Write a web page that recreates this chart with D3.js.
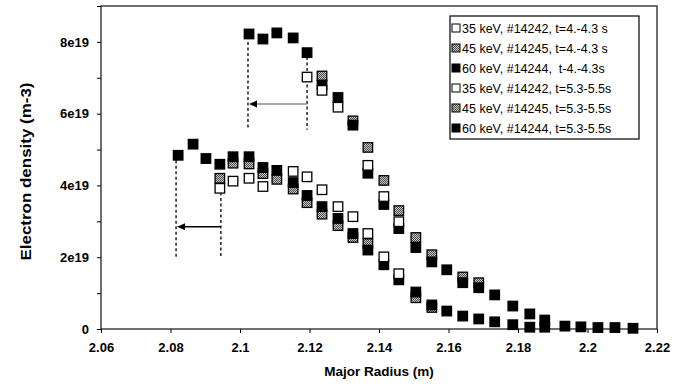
<!DOCTYPE html>
<html>
<head>
<meta charset="utf-8">
<script src="https://cdn.jsdelivr.net/npm/d3@7"></script>
<style>
  body { margin: 0; background: #fff; }
  svg { display: block; font-family: "Liberation Sans", Arial, sans-serif; }
</style>
</head>
<body>
<div id="chart"></div>
<script>
// Major radius (m) and electron density (m-3)
// t = 4.-4.3 s
const r35a = [2.1193, 2.1236, 2.1282, 2.1368, 2.1414, 2.1457];
const n35a = [7.02e19, 6.65e19, 6.18e19, 4.56e19, 3.69e19, 2.99e19];
const r45a = [2.1236, 2.1325, 2.1368, 2.1414, 2.1457, 2.1506, 2.1552, 2.1641, 2.1687];
const n45a = [7.05e19, 5.80e19, 5.06e19, 4.14e19, 3.30e19, 2.55e19, 2.07e19, 1.45e19, 1.29e19];
const r60a = [2.1026, 2.1066, 2.1106, 2.1153, 2.1193, 2.1236, 2.1282, 2.1325, 2.1368, 2.1414, 2.1457, 2.1506, 2.1552,
              2.1595, 2.1641, 2.1687, 2.1733, 2.1785, 2.1834, 2.1877, 2.1935, 2.1981, 2.2030, 2.2079, 2.2131];
const n60a = [8.22e19, 8.08e19, 8.25e19, 8.11e19, 7.70e19, 6.80e19, 6.45e19, 5.68e19, 4.34e19, 3.47e19, 2.80e19, 2.27e19, 1.87e19,
              1.65e19, 1.29e19, 1.15e19, 0.95e19, 0.64e19, 0.42e19, 0.25e19, 0.08e19, 0.06e19, 0.04e19, 0.04e19, 0.02e19];
// t = 5.3-5.5 s
const r35b = [2.0942, 2.0980, 2.1026, 2.1066, 2.1153, 2.1193, 2.1236, 2.1282, 2.1325, 2.1368, 2.1414, 2.1457];
const n35b = [3.92e19, 4.12e19, 4.20e19, 3.97e19, 4.39e19, 4.24e19, 3.88e19, 3.41e19, 3.13e19, 2.66e19, 2.01e19, 1.54e19];
const r45b = [2.0942, 2.0980, 2.1026, 2.1066, 2.1106, 2.1153, 2.1193, 2.1236, 2.1282, 2.1325, 2.1368, 2.1506, 2.1552];
const n45b = [4.20e19, 4.62e19, 4.60e19, 4.33e19, 4.17e19, 3.90e19, 3.52e19, 3.20e19, 2.88e19, 2.55e19, 2.38e19, 0.87e19, 0.60e19];
const r60b = [2.0822, 2.0865, 2.0902, 2.0942, 2.0980, 2.1026, 2.1066, 2.1106, 2.1153, 2.1193, 2.1236, 2.1282, 2.1325,
              2.1368, 2.1414, 2.1457, 2.1506, 2.1552, 2.1595, 2.1641, 2.1687, 2.1733, 2.1785, 2.1834, 2.1877];
const n60b = [4.84e19, 5.15e19, 4.75e19, 4.59e19, 4.80e19, 4.80e19, 4.50e19, 4.42e19, 4.08e19, 3.72e19, 3.41e19, 3.08e19, 2.66e19,
              2.20e19, 1.79e19, 1.37e19, 1.03e19, 0.67e19, 0.50e19, 0.36e19, 0.28e19, 0.20e19, 0.12e19, 0.05e19, 0.05e19];

const legendLabels = [
  "35 keV, #14242, t=4.-4.3 s",
  "45 keV, #14245, t=4.-4.3 s",
  "60 keV, #14244,  t-4.-4.3s",
  "35 keV, #14242, t=5.3-5.5s",
  "45 keV, #14245, t=5.3-5.5s",
  "60 keV, #14244, t=5.3-5.5s"
];

// Shift annotations: dashed verticals and arrow (from -> to)
const shiftFrom = [2.1193, 2.0945];
const shiftTo = [2.1023, 2.0816];
const arrowLevel = [6.27e19, 2.85e19];
const dashFromTop = [7.58e19, 3.80e19];
const dashToTop = [8.00e19, 4.70e19];
const dashBottom = [5.55e19, 2.00e19];

const xTicks = [2.06, 2.08, 2.1, 2.12, 2.14, 2.16, 2.18, 2.2, 2.22];
const yTicks = [0, 1e19, 2e19, 3e19, 4e19, 5e19, 6e19, 7e19, 8e19, 9e19];

const width = 687, height = 389;
const margin = {top: 6, right: 30, bottom: 60, left: 101};

const svg = d3.select("#chart").append("svg")
  .attr("width", width)
  .attr("height", height);

// hatched fill for the 45 keV markers
const pat = svg.append("defs").append("pattern")
  .attr("id", "hatch")
  .attr("width", 2).attr("height", 2)
  .attr("patternUnits", "userSpaceOnUse");
pat.append("rect").attr("width", 2).attr("height", 2).attr("fill", "#c8c8c8");
pat.append("rect").attr("width", 1).attr("height", 1).attr("fill", "#4a4a4a");
pat.append("rect").attr("x", 1).attr("y", 1).attr("width", 1).attr("height", 1).attr("fill", "#4a4a4a");

const x = d3.scaleLinear().domain([2.06, 2.22]).range([margin.left, width - margin.right]);
const y = d3.scaleLinear().domain([0, 9e19]).range([height - margin.bottom, margin.top]);

// axes
svg.append("g")
  .attr("transform", `translate(0,${height - margin.bottom})`)
  .call(d3.axisBottom(x).tickValues(xTicks).tickSize(4).tickPadding(10)
    .tickFormat(d => String(+d.toFixed(2))))
  .call(g => g.select(".domain").remove())
  .call(g => g.selectAll("text").attr("font-size", 13).attr("font-weight", "bold").attr("font-family", null));

svg.append("g")
  .attr("transform", `translate(${margin.left},0)`)
  .call(d3.axisLeft(y).tickValues(yTicks).tickSize(4).tickPadding(8)
    .tickFormat(d => {
      const k = Math.round(d / 1e19);
      if (k % 2) return "";
      return k === 0 ? "0" : k + "e19";
    }))
  .call(g => g.select(".domain").remove())
  .call(g => g.selectAll("text").attr("font-size", 13).attr("font-weight", "bold").attr("font-family", null));

// plot frame
svg.append("rect")
  .attr("x", x(2.06)).attr("y", y(9e19))
  .attr("width", x(2.22) - x(2.06)).attr("height", y(0) - y(9e19))
  .attr("fill", "none").attr("stroke", "#111").attr("stroke-width", 1.2);

// axis titles
svg.append("text")
  .attr("x", (x(2.06) + x(2.22)) / 2).attr("y", 376)
  .attr("text-anchor", "middle")
  .attr("font-size", 13.5).attr("font-weight", "bold")
  .text("Major Radius (m)");

svg.append("text")
  .attr("transform", `translate(31,${(y(0) + y(9e19)) / 2 + 4}) rotate(-90)`)
  .attr("text-anchor", "middle")
  .attr("font-size", 14).attr("font-weight", "bold")
  .attr("textLength", 178).attr("lengthAdjust", "spacingAndGlyphs")
  .text("Electron density (m-3)");

// shift annotations
const ann = svg.append("g");
shiftFrom.forEach((xf, i) => {
  [[xf, dashFromTop[i]], [shiftTo[i], dashToTop[i]]].forEach(([xv, top]) => {
    ann.append("line")
      .attr("x1", x(xv)).attr("x2", x(xv))
      .attr("y1", y(top)).attr("y2", y(dashBottom[i]))
      .attr("stroke", "#000").attr("stroke-width", 1.3)
      .attr("stroke-dasharray", "3,2.5");
  });
  const ya = y(arrowLevel[i]);
  ann.append("line")
    .attr("x1", x(xf)).attr("x2", x(shiftTo[i]) + 7)
    .attr("y1", ya).attr("y2", ya)
    .attr("stroke", i === 0 ? "#888" : "#000").attr("stroke-width", 1.5);
  ann.append("path")
    .attr("d", `M${x(shiftTo[i]) + 1},${ya}l8,-3.5v7z`)
    .attr("fill", "#000");
});

// markers
const styles = {
  white: {fill: "#fff"},
  hatch: {fill: "url(#hatch)"},
  black: {fill: "#000"}
};
const series = [
  {r: r45a, n: n45a, s: "hatch"},
  {r: r60a, n: n60a, s: "black"},
  {r: r35a, n: n35a, s: "white"},
  {r: r45b, n: n45b, s: "hatch"},
  {r: r60b, n: n60b, s: "black"},
  {r: r35b, n: n35b, s: "white"}
];
const size = 9.5;
series.forEach(d => {
  svg.append("g")
    .selectAll("rect")
    .data(d3.zip(d.r, d.n))
    .join("rect")
      .attr("x", p => x(p[0]) - size / 2)
      .attr("y", p => y(p[1]) - size / 2)
      .attr("width", size).attr("height", size)
      .attr("fill", styles[d.s].fill)
      .attr("stroke", "#000").attr("stroke-width", 1.3);
});

// legend
const legendStyles = ["white", "hatch", "black", "white", "hatch", "black"];
const lg = svg.append("g").attr("transform", "translate(450,16)");
lg.append("rect")
  .attr("width", 189).attr("height", 123)
  .attr("fill", "#fff").attr("stroke", "#000").attr("stroke-width", 1.2);
const rows = lg.selectAll("g.row")
  .data(legendLabels)
  .join("g")
    .attr("class", "row")
    .attr("transform", (d, i) => `translate(0,${12 + i * 20})`);
rows.append("rect")
  .attr("x", 2).attr("y", -4)
  .attr("width", 8).attr("height", 8)
  .attr("fill", (d, i) => styles[legendStyles[i]].fill)
  .attr("stroke", "#000").attr("stroke-width", 1);
rows.append("text")
  .attr("x", 12).attr("y", 4.5)
  .attr("font-size", 12.5)
  .style("white-space", "pre")
  .text(d => d);
</script>
</body>
</html>
